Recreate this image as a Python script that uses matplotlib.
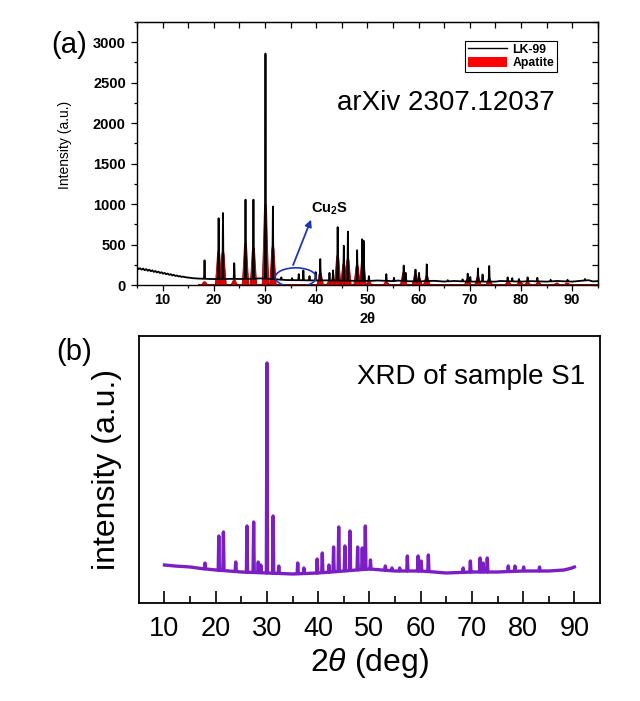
import numpy as np
import matplotlib.pyplot as plt
from matplotlib.lines import Line2D
from matplotlib.patches import Ellipse, Patch
from matplotlib.ticker import MultipleLocator

plt.rcParams['font.family'] = ['Liberation Sans', 'DejaVu Sans']
plt.rcParams['mathtext.fontset'] = 'custom'
plt.rcParams['mathtext.rm'] = 'Liberation Sans'
plt.rcParams['mathtext.it'] = 'Liberation Sans:italic'
plt.rcParams['mathtext.bf'] = 'Liberation Sans:bold'

# ---- (a) LK-99 pattern ----
lk_bg_x = [5, 5.3, 5.6, 5.9, 6.2, 6.5, 6.8, 7.1, 7.4, 7.7, 8, 8.3, 8.6, 8.9, 9.2, 9.5, 9.8,
           10.1, 10.4, 10.7, 11, 11.3, 11.6, 11.9, 12.2, 12.5, 12.8, 13.1, 13.4, 13.7, 14,
           14.5, 15, 15.5, 16, 16.5, 17, 18, 19, 20, 22, 23, 25, 28, 29, 30, 32, 34, 36, 38,
           40, 42, 45, 50, 52, 55, 56, 58, 60, 63, 65, 67, 70, 75, 76, 80, 82, 85, 87,
           90, 91, 93.2, 94, 95]
lk_bg_y = [220, 196, 208, 190, 204, 183, 197, 176, 190, 170, 182, 162, 174, 155, 166, 148, 158,
           140, 150, 133, 142, 126, 134, 118, 126, 112, 118, 106, 111, 100, 104,
           96, 92, 88, 84, 82, 80, 78, 75, 74, 74, 76, 75, 78, 82, 80, 72, 62, 60, 58,
           56, 58, 55, 50, 56, 48, 55, 47, 45, 52, 43, 50, 42, 42, 50, 42, 48, 42, 50,
           42, 48, 60, 45, 48]
lk_pk_x = [18.2, 20.95, 21.8, 24.0, 26.2, 27.75, 30.1, 31.55, 33.2, 35.3, 36.6, 37.5, 38.7,
           39.9, 40.8, 42.6, 43.3, 44.2, 45.4, 46.2, 48.0, 49.0, 49.3, 50.3, 53.7, 55.2,
           57.1, 57.5, 59.4, 60.1, 61.6, 65.7, 68.6, 69.6, 70.1, 71.6, 72.5, 73.8, 77.4, 78.3,
           79.6, 81.3, 83.2, 85.8, 89.1, 92.5]
lk_pk_y = [305, 825, 890, 270, 1055, 1055, 2860, 970, 95, 85, 135, 180, 110,
           160, 320, 150, 180, 715, 485, 660, 430, 565, 545, 110, 135, 90,
           240, 150, 190, 150, 255, 60, 70, 140, 100, 205, 130, 235, 95, 85,
           75, 95, 90, 65, 65, 75]

# apatite reference peaks
ap_base_x = [17, 95]
ap_base_y = [15, 15]
ap_pk_x = [18.2, 20.95, 21.8, 24.0, 26.2, 27.75, 30.1, 31.55, 40.8, 42.6, 43.3, 44.2, 45.4,
           46.2, 48.0, 49.1, 50.3, 53.7, 57.1, 59.4, 60.1, 61.6, 69.6, 71.6, 73.8,
           77.5, 79.8, 81.3, 83.4, 87.0, 89.0]
ap_pk_y = [40, 420, 420, 60, 520, 470, 1000, 490, 150, 50, 60, 370, 270,
           330, 250, 360, 40, 40, 160, 140, 90, 110, 75, 100, 80,
           45, 50, 35, 35, 25, 25]

# ---- (b) sample S1 ----
s1_bg_x = [10, 12, 15, 18, 20, 25, 30, 35, 40, 45, 50, 55, 60, 65, 70, 75, 80, 85, 88, 89.5, 90]
s1_bg_y = [38, 37, 36, 34, 33, 31, 30, 29, 30, 32, 34, 32, 32, 30, 31, 31, 32, 32, 33, 35, 36]
s1_pk_x = [17.9, 20.6, 21.5, 23.9, 26.1, 27.4, 28.3, 28.8, 30.0, 31.2, 32.3, 36.0, 37.2,
           39.8, 40.8, 42.1, 43.0, 44.0, 45.2, 46.2, 47.7, 48.6, 49.2, 50.2, 53.1, 54.4,
           55.9, 57.4, 59.5, 60.1, 61.5, 68.3, 69.7, 71.6, 72.2, 73.0, 77.1, 78.4, 80.1, 83.2]
s1_pk_y = [40, 67, 71, 41, 77, 81, 41, 38, 240, 87, 37, 40, 35,
           44, 50, 38, 56, 76, 57, 72, 56, 55, 77, 43, 37, 35,
           35, 47, 47, 42, 48, 35, 42, 45, 40, 45, 37, 37, 36, 36]

# peak outline: (offset in half-widths, fraction of peak height above background)
spike = [(-1, 0.0), (0, 1.0), (1, 0.0)]
bump = [(-1, 0.0), (-0.6, 0.5), (-0.35, 0.9), (-0.15, 1.0), (0.15, 1.0), (0.35, 0.9),
        (0.6, 0.5), (1, 0.0)]


def trace(bg_x, bg_y, pk_x, pk_y, hw, shape):
    bg_x = np.asarray(bg_x, float)
    bg_y = np.asarray(bg_y, float)
    pk = np.asarray(pk_x, float)
    xs, ys = [], []
    for x, y in zip(bg_x, bg_y):
        if np.all(np.abs(pk - x) > hw):
            xs.append(x)
            ys.append(y)
    for p, h in zip(pk, pk_y):
        b = np.interp(p, bg_x, bg_y)
        for dx, f in shape:
            xs.append(p + dx * hw)
            ys.append(b + f * (h - b))
    order = np.argsort(xs, kind='stable')
    return np.array(xs)[order], np.array(ys)[order]


fig = plt.figure(figsize=(6.4, 7.01), dpi=100)
ax1 = fig.add_axes([0.214, 0.5934, 0.72, 0.3752])
ax2 = fig.add_axes([0.217, 0.1398, 0.7205, 0.3809])

# ---- top panel ----
red = '#e00000'
ax1.fill_between(ap_base_x, 0, ap_base_y, color='#a00000', lw=0, zorder=2)
for p, h in zip(ap_pk_x, ap_pk_y):
    ax1.fill([p + dx * 0.65 for dx, f in bump], [f * h for dx, f in bump],
             facecolor=red, edgecolor='#a00000', lw=0.6, zorder=2)
lx, ly = trace(lk_bg_x, lk_bg_y, lk_pk_x, lk_pk_y, 0.11, spike)
ax1.plot(lx, ly, color='black', lw=1.3, zorder=3)

ax1.set_xlim(5, 95)
ax1.set_ylim(0, 3250)
ax1.set_xticks(range(10, 91, 10))
ax1.xaxis.set_minor_locator(MultipleLocator(5))
ax1.set_yticks(range(0, 3001, 500))
ax1.yaxis.set_minor_locator(MultipleLocator(250))
ax1.tick_params(which='major', direction='out', length=4, width=0.9, labelsize=10.5)
ax1.tick_params(which='minor', direction='out', length=2.5, width=0.9)
ax1.tick_params(axis='x', pad=2)
ax1.tick_params(axis='y', pad=4)
for lab in ax1.get_xticklabels() + ax1.get_yticklabels():
    lab.set_fontweight('bold')
for sp in ax1.spines.values():
    sp.set_linewidth(1.0)

top = ax1.secondary_xaxis('top')
top.set_xticks(np.arange(5, 96, 5))
top.tick_params(direction='in', length=4, width=0.9, labeltop=False)
right = ax1.secondary_yaxis('right')
right.set_yticks(np.arange(0, 3251, 250))
right.tick_params(direction='in', length=4, width=0.9, labelright=False)

ax1.set_xlabel('2θ', fontsize=10.5, fontweight='bold', labelpad=3)
ax1.set_ylabel('Intensity (a.u.)', fontsize=10)
ax1.yaxis.set_label_coords(-0.141, 0.532)

blue = '#1f35b5'
ax1.add_patch(Ellipse((36.0, 95), 8.0, 235, fill=False, ec=blue, lw=1.2, zorder=4))
ax1.annotate('', xy=(39.2, 840), xytext=(35.3, 215),
             arrowprops=dict(arrowstyle='-|>', color=blue, lw=1.3, mutation_scale=10))
ax1.text(38.9, 940, r'Cu$_\mathbf{2}$S', fontsize=10.5, fontweight='bold', va='center')
ax1.text(0.670, 0.692, 'arXiv 2307.12037', transform=ax1.transAxes, fontsize=20,
         ha='center', va='center')

handles = [Line2D([], [], color='black', lw=1.0), Patch(facecolor='#ff0000', edgecolor='none')]
leg = ax1.legend(handles, ['LK-99', 'Apatite'], loc='upper right', bbox_to_anchor=(0.911, 0.928),
                 borderaxespad=0, prop=dict(weight='bold', size=8.8), fancybox=False,
                 edgecolor='black', framealpha=1, handlelength=3.2, handleheight=0.9,
                 handletextpad=0.45, borderpad=0.2, labelspacing=0.1)
leg.get_frame().set_linewidth(0.8)

# ---- bottom panel ----
sx, sy = trace(s1_bg_x, s1_bg_y, s1_pk_x, s1_pk_y, 0.12, spike)
ax2.plot(sx, sy, color='#7b1fc4', lw=2.4, solid_joinstyle='round')
ax2.set_xlim(5, 95)
ax2.set_ylim(0, 267)
ax2.set_yticks([])
ax2.set_xticks(range(10, 91, 10))
ax2.set_xticks(range(15, 86, 10), minor=True)
ax2.tick_params(which='major', direction='in', length=9, width=1.2, labelsize=19.5, pad=9)
ax2.tick_params(which='minor', direction='in', length=5, width=1.2)
for sp in ax2.spines.values():
    sp.set_linewidth(1.3)
ax2.set_xlabel(r'2$\theta$ (deg)', fontsize=23, labelpad=3)
ax2.set_ylabel('intensity (a.u.)', fontsize=23)
ax2.yaxis.set_label_coords(-0.0375, 0.5)
ax2.text(0.721, 0.846, 'XRD of sample S1', transform=ax2.transAxes, fontsize=20,
         ha='center', va='center')

fig.text(69 / 640, 1 - 45 / 701, '(a)', fontsize=21, ha='center', va='center')
fig.text(74 / 640, 1 - 352 / 701, '(b)', fontsize=21, ha='center', va='center')

fig.savefig('out.png', dpi=100, facecolor='white')
